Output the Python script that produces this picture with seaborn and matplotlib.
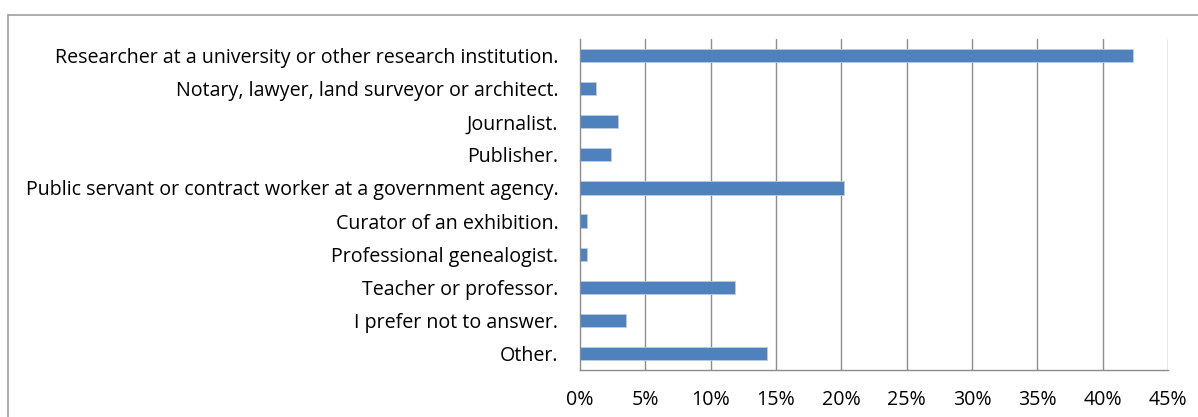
import matplotlib
matplotlib.use("Agg")
import matplotlib.pyplot as plt
from matplotlib.lines import Line2D
from matplotlib.ticker import FixedLocator, PercentFormatter
import seaborn as sns
import pandas as pd

categories = [
    "Researcher at a university or other research institution.",
    "Notary, lawyer, land surveyor or architect.",
    "Journalist.",
    "Publisher.",
    "Public servant or contract worker at a government agency.",
    "Curator of an exhibition.",
    "Professional genealogist.",
    "Teacher or professor.",
    "I prefer not to answer.",
    "Other.",
]
shares = [42.3, 1.2, 2.9, 2.35, 20.2, 0.55, 0.55, 11.9, 3.55, 14.3]
x_ticks = [0, 5, 10, 15, 20, 25, 30, 35, 40, 45]

sns.set_style("white")
plt.rcParams["font.family"] = ["Open Sans", "DejaVu Sans"]

W, H, DPI = 1198, 417, 100
fig = plt.figure(figsize=(W / DPI, H / DPI), dpi=DPI)
ax = fig.add_axes([580 / W, (H - 370) / H, 588 / W, 331 / H])

df = pd.DataFrame({"role": categories, "share": shares})
grid_c = "#8C8C8C"

# vertical gridlines under the bars
for v in x_ticks[1:]:
    ax.axvline(v, color=grid_c, lw=1.0, zorder=0)

sns.barplot(data=df, y="role", x="share", orient="h", order=categories,
            color="#4F81BD", saturation=1, width=0.4,
            edgecolor="#B9CDE5", linewidth=0.6, ax=ax, zorder=2)

ax.set_xlim(0, 45)
ax.set_ylim(len(categories) - 0.5, -0.5)
ax.set_xlabel("")
ax.set_ylabel("")
ax.xaxis.set_major_locator(FixedLocator(x_ticks))
ax.xaxis.set_major_formatter(PercentFormatter(decimals=0))

for s in ["top", "right"]:
    ax.spines[s].set_visible(False)
for s in ["left", "bottom"]:
    ax.spines[s].set_color(grid_c)
    ax.spines[s].set_linewidth(1.0)
    ax.spines[s].set_zorder(3)

# category ticks sit at the boundaries between bars
ax.yaxis.set_minor_locator(FixedLocator([i - 0.5 for i in range(len(categories) + 1)]))
ax.tick_params(axis="y", which="major", length=0, pad=15.5, labelsize=14.1, labelcolor="black")
ax.tick_params(axis="y", which="minor", length=4, width=1.0, color=grid_c, direction="out")
ax.tick_params(axis="x", which="major", length=4.5, width=1.0, color=grid_c,
               direction="out", pad=10, labelsize=14.1, labelcolor="black")

# chart-area frame
frame_c = "#A0A0A0"
fig.add_artist(Line2D([7.5 / W, 1.0], [1 - 14.5 / H, 1 - 14.5 / H],
                      transform=fig.transFigure, color=frame_c, lw=1.2))
fig.add_artist(Line2D([7.5 / W, 7.5 / W], [0.0, 1 - 14.5 / H],
                      transform=fig.transFigure, color=frame_c, lw=1.2))

fig.savefig("out.png", dpi=DPI)
